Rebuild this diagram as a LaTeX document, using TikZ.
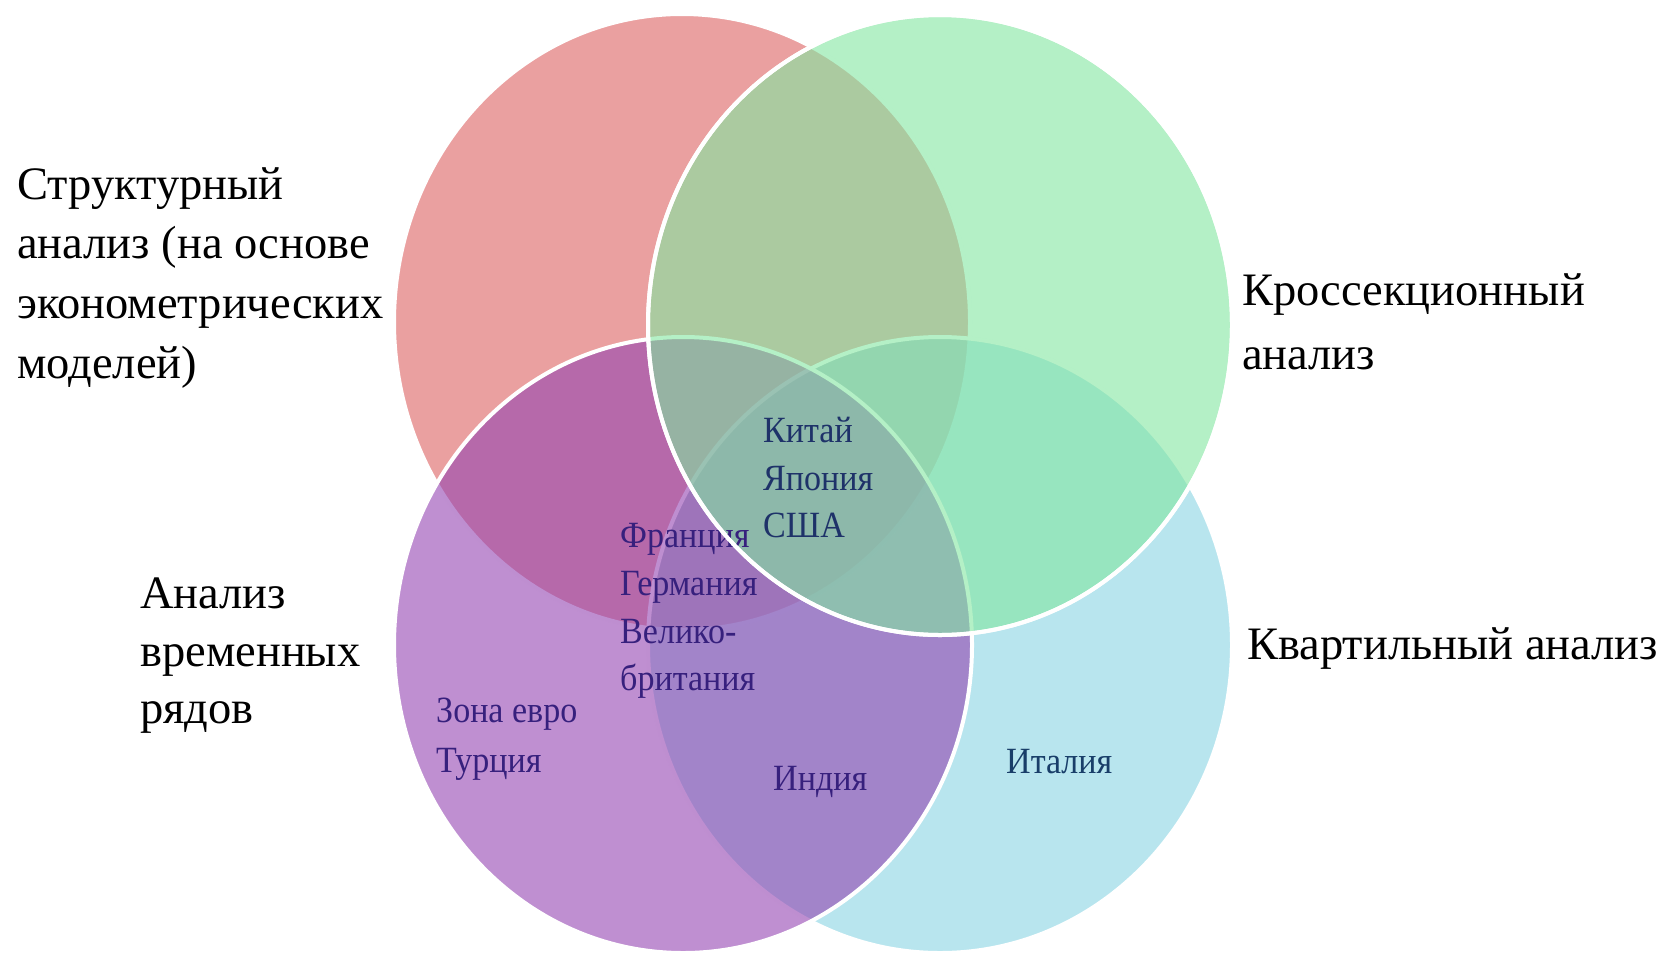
\documentclass[tikz,border=0pt]{standalone}
\usepackage{fontspec}
\setmainfont{Liberation Serif}
\newfontfamily\innerfont[FakeStretch=0.92]{Liberation Serif}
\definecolor{cred}{RGB}{220,97,97}
\definecolor{cgreen}{RGB}{130,230,160}
\definecolor{cpurple}{RGB}{148,68,178}
\definecolor{ccyan}{RGB}{137,212,227}
\definecolor{tnavy}{RGB}{30,50,105}
\definecolor{tviolet}{RGB}{55,32,125}
\definecolor{tteal}{RGB}{25,62,105}
\tikzset{
  venn/.style={draw=white, line width=4pt, fill opacity=0.6},
  outer/.style={anchor=base west, inner sep=0pt, text=black, font=\fontsize{46.5}{52}\selectfont},
  inner/.style={anchor=base west, inner sep=0pt, font=\innerfont\fontsize{37}{42}\selectfont},
}
\begin{document}
\begin{tikzpicture}[x=1pt,y=-1pt]
\useasboundingbox (0,0) rectangle (1661,956);
% ellipses
\draw[venn, fill=cred]    (682,322) ellipse [x radius=288, y radius=308];
\draw[venn, fill=ccyan]   (940,645) ellipse [x radius=292, y radius=308];
\draw[venn, fill=cpurple] (683,645) ellipse [x radius=289, y radius=308];
\draw[venn, fill=cgreen]  (940,325) ellipse [x radius=292, y radius=310];
% outer labels
\node[outer] (s1) at (17,199) {Структурный};
\node[outer] (s2) at (17,258) {анализ (на основе};
\node[outer] (s3) at (17,318) {эконометрических};
\node[outer] (s4) at (17,378) {моделей)};
\node[outer] (k1) at (1242,305) {Кроссекционный};
\node[outer] (k2) at (1242,369) {анализ};
\node[outer] (v1) at (140,608) {Анализ};
\node[outer] (v2) at (140,666) {временных};
\node[outer] (v3) at (140,723) {рядов};
\node[outer] (q1) at (1247,659) {Квартильный анализ};
% inner labels
\node[inner, text=tnavy] (c1) at (763,442) {Китай};
\node[inner, text=tnavy] (c2) at (763,490) {Япония};
\node[inner, text=tnavy] (c3) at (763,537) {США};
\node[inner, text=tviolet] (f1) at (620,547) {Франция};
\node[inner, text=tviolet] (f2) at (620,595) {Германия};
\node[inner, text=tviolet] (f3) at (620,643) {Велико-};
\node[inner, text=tviolet] (f4) at (620,690) {британия};
\node[inner, text=tviolet] (z1) at (436,722) {Зона евро};
\node[inner, text=tviolet] (z2) at (436,772) {Турция};
\node[inner, text=tviolet] (i1) at (773,790) {Индия};
\node[inner, text=tteal] (it) at (1006,773) {Италия};
% green outline over the text
\draw[white, line width=4pt] (940,325) ellipse [x radius=292, y radius=310];
\end{tikzpicture}
\end{document}
